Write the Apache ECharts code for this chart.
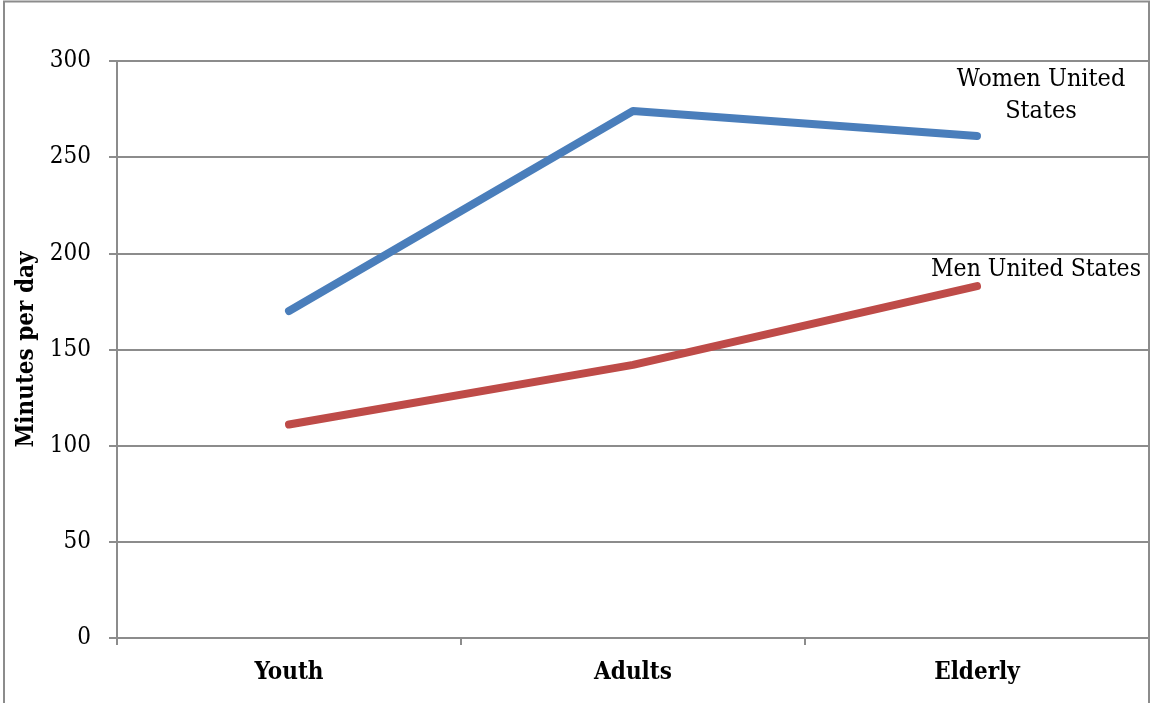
<!DOCTYPE html>
<html>
<head>
<meta charset="utf-8">
<script src="https://cdn.jsdelivr.net/npm/echarts@6/dist/echarts.min.js"></script>
<style>html,body{margin:0;padding:0;background:#fff}#c{width:1151px;height:703px}</style>
</head>
<body>
<div id="c"></div>
<script>
const categories = ['Youth', 'Adults', 'Elderly'];
const womenUS = [170, 274, 261];
const menUS = [111, 142, 183];
const yTicks = [0, 50, 100, 150, 200, 250, 300];
const seriesNames = ['Women United\nStates', 'Men United States'];

const chart = echarts.init(document.getElementById('c'), null, {renderer: 'canvas'});
const FONT = '"DejaVu Serif Condensed", "DejaVu Serif", serif';
const gridColor = '#8c8c8c';
chart.setOption({
  animation: false,
  backgroundColor: '#fff',
  graphic: [{
    type: 'rect', shape: {x: 4, y: 1.5, width: 1145, height: 710},
    style: {fill: 'none', stroke: gridColor, lineWidth: 2}, silent: true, z: -1
  }],
  grid: {left: 117, right: 2, top: 61, bottom: 65},
  xAxis: {
    type: 'category', data: categories, boundaryGap: true,
    axisLine: {lineStyle: {color: gridColor, width: 2}},
    axisTick: {show: true, length: 7, lineStyle: {color: gridColor, width: 2}},
    axisLabel: {fontFamily: FONT, fontWeight: 'bold', fontSize: 24, color: '#000', margin: 23}
  },
  yAxis: {
    type: 'value', min: yTicks[0], max: yTicks[yTicks.length - 1], interval: 50,
    name: 'Minutes per day', nameLocation: 'middle', nameGap: 78, nameRotate: 90,
    nameTextStyle: {fontFamily: FONT, fontWeight: 'bold', fontSize: 24, color: '#000'},
    axisLine: {show: true, lineStyle: {color: gridColor, width: 2}},
    axisTick: {show: true, length: 8, lineStyle: {color: gridColor, width: 2}},
    axisLabel: {fontFamily: FONT, fontSize: 24, color: '#000', margin: 26},
    splitLine: {lineStyle: {color: gridColor, width: 2}}
  },
  series: [
    {
      name: seriesNames[0], type: 'line', data: womenUS, symbol: 'none',
      lineStyle: {color: '#4a7ebb', width: 8, cap: 'round', join: 'round'},
      endLabel: {show: true, formatter: seriesNames[0], fontFamily: FONT, fontSize: 25,
        color: '#000', align: 'center', verticalAlign: 'middle', lineHeight: 32, offset: [56, -41]}
    },
    {
      name: seriesNames[1], type: 'line', data: menUS, symbol: 'none',
      lineStyle: {color: '#be4b48', width: 8, cap: 'round', join: 'round'},
      endLabel: {show: true, formatter: seriesNames[1], fontFamily: FONT, fontSize: 24.5,
        color: '#000', align: 'center', verticalAlign: 'middle', offset: [51, -16]}
    }
  ]
});
</script>
</body>
</html>
